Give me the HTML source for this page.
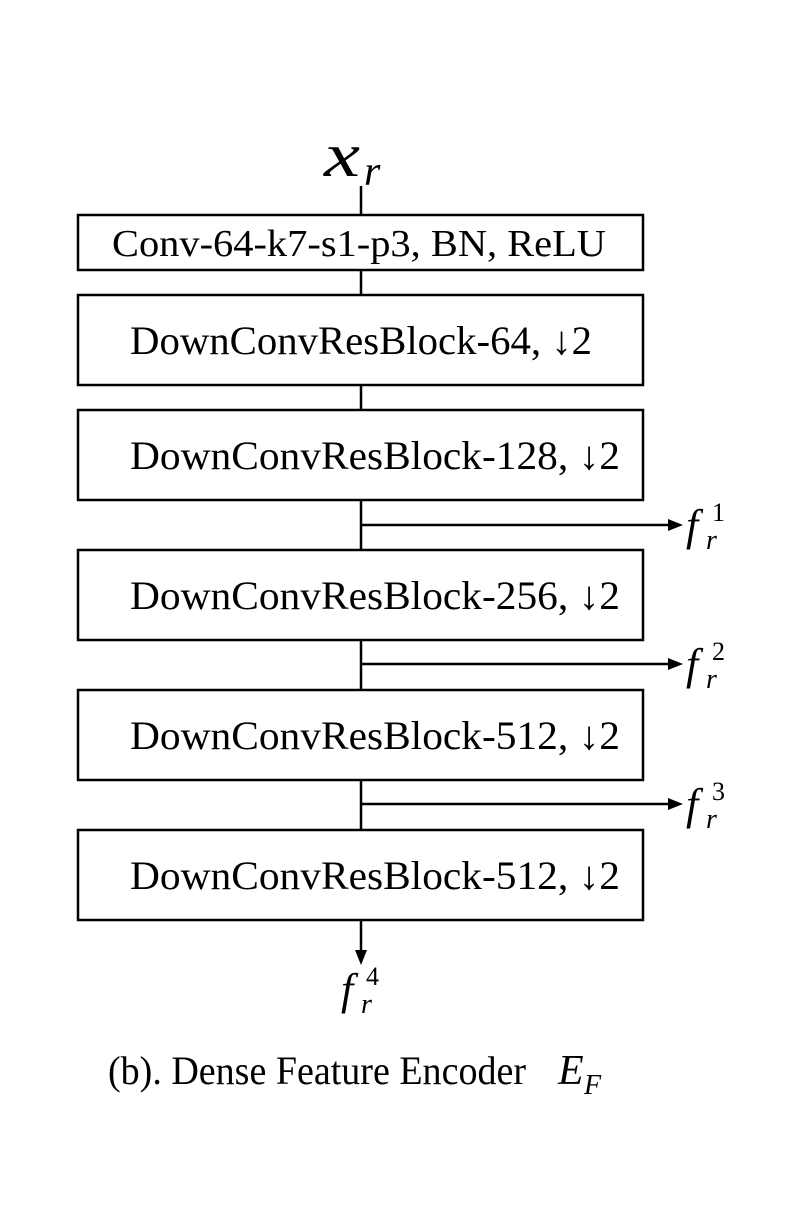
<!DOCTYPE html>
<html><head><style>
body{margin:0;background:#fff;}
svg{display:block}
text{font-family:"Liberation Serif",serif;fill:#000}
.m{font-style:italic}
</style></head><body>
<svg width="800" height="1211" viewBox="0 0 800 1211">
<g stroke="#000" stroke-width="2.5" fill="none">
<line x1="361" y1="186" x2="361" y2="905"/>
<rect x="78" y="215" width="565" height="55" fill="#fff"/>
<rect x="78" y="295" width="565" height="90" fill="#fff"/>
<rect x="78" y="410" width="565" height="90" fill="#fff"/>
<rect x="78" y="550" width="565" height="90" fill="#fff"/>
<rect x="78" y="690" width="565" height="90" fill="#fff"/>
<rect x="78" y="830" width="565" height="90" fill="#fff"/>
<line x1="361" y1="920" x2="361" y2="952"/>
<line x1="361" y1="525" x2="670" y2="525"/>
<line x1="361" y1="664" x2="670" y2="664"/>
<line x1="361" y1="804" x2="670" y2="804"/>
</g>
<g fill="#000">
<polygon points="683,525 668,519 668,531"/>
<polygon points="683,664 668,658 668,670"/>
<polygon points="683,804 668,798 668,810"/>
<polygon points="361,965 355,950 367,950"/>
</g>
<text x="324" y="176" font-size="62" class="m" textLength="36" lengthAdjust="spacingAndGlyphs">x</text>
<text x="364" y="185" font-size="42" class="m">r</text>
<text x="112" y="256" font-size="38" textLength="494" lengthAdjust="spacingAndGlyphs">Conv-64-k7-s1-p3, BN, ReLU</text>
<text x="130" y="354" font-size="40" textLength="462" lengthAdjust="spacingAndGlyphs">DownConvResBlock-64, ↓2</text>
<text x="130" y="469" font-size="40" textLength="490" lengthAdjust="spacingAndGlyphs">DownConvResBlock-128, ↓2</text>
<text x="130" y="609" font-size="40" textLength="490" lengthAdjust="spacingAndGlyphs">DownConvResBlock-256, ↓2</text>
<text x="130" y="749" font-size="40" textLength="490" lengthAdjust="spacingAndGlyphs">DownConvResBlock-512, ↓2</text>
<text x="130" y="889" font-size="40" textLength="490" lengthAdjust="spacingAndGlyphs">DownConvResBlock-512, ↓2</text>
<g font-size="44" class="m">
<text x="686" y="540">f</text><text x="686" y="679">f</text><text x="686" y="819">f</text><text x="341" y="1004">f</text>
</g>
<g font-size="26">
<text x="712" y="521">1</text><text x="712" y="660">2</text><text x="712" y="800">3</text><text x="366" y="985">4</text>
</g>
<g font-size="28" class="m">
<text x="706" y="549">r</text><text x="706" y="688">r</text><text x="706" y="828">r</text><text x="361" y="1013">r</text>
</g>
<text x="108" y="1084" font-size="40" textLength="418" lengthAdjust="spacingAndGlyphs">(b). Dense Feature Encoder</text>
<text x="558" y="1084" font-size="42" class="m">E</text>
<text x="584" y="1094" font-size="28" class="m">F</text>
</svg>
</body></html>
